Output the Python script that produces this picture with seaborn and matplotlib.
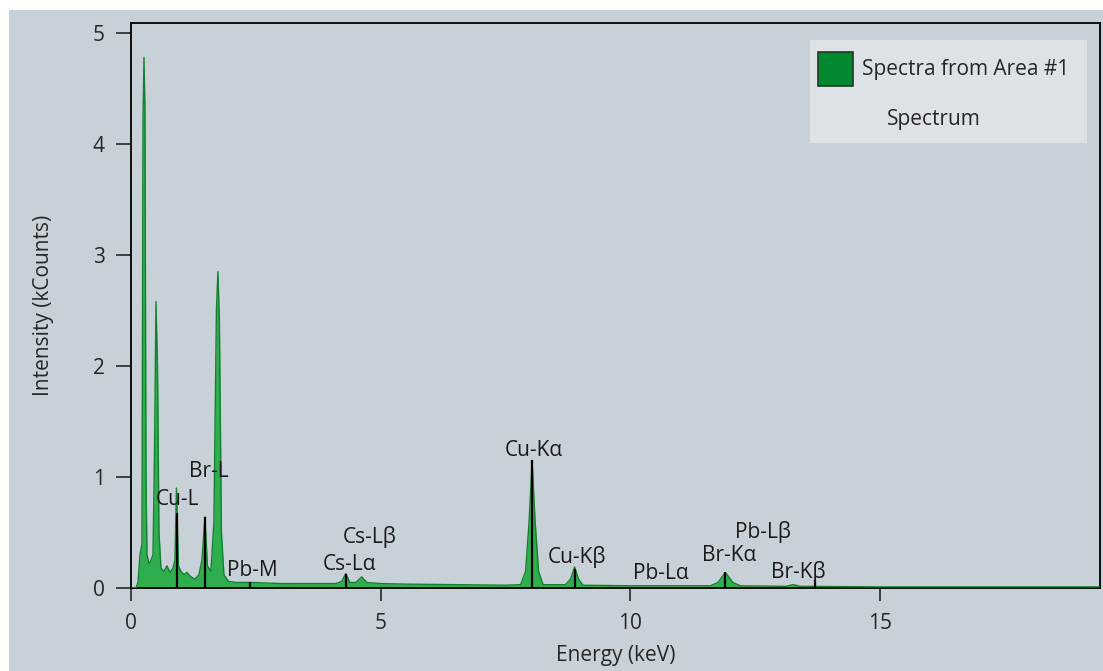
import matplotlib
matplotlib.use("Agg")
import matplotlib.pyplot as plt
from matplotlib.patches import Rectangle
import pandas as pd
import seaborn as sns

# spectrum outline (keV, kCounts)
energy = [0.0, 0.10, 0.14, 0.18, 0.22, 0.24, 0.26, 0.28, 0.30, 0.32, 0.36, 0.40,
          0.44, 0.47, 0.50, 0.53, 0.56, 0.60, 0.66, 0.72, 0.78, 0.84, 0.88, 0.91,
          0.95, 1.00, 1.06, 1.12, 1.20, 1.28, 1.36, 1.42, 1.48, 1.53, 1.60, 1.66,
          1.71, 1.74, 1.77, 1.81, 1.86, 1.95, 2.10, 2.40, 3.00, 3.60, 4.10, 4.22,
          4.30, 4.38, 4.50, 4.62, 4.72, 5.00, 5.50, 6.50, 7.50, 7.80, 7.90, 7.97,
          8.03, 8.09, 8.16, 8.25, 8.70, 8.80, 8.88, 8.96, 9.05, 10.0, 11.6, 11.75,
          11.90, 12.05, 12.20, 13.10, 13.26, 13.40, 15.0, 19.4]
counts = [0.0, 0.0, 0.05, 0.30, 0.40, 4.20, 4.78, 4.30, 1.00, 0.30, 0.22, 0.25,
          0.30, 1.20, 2.58, 2.00, 0.50, 0.18, 0.15, 0.20, 0.14, 0.18, 0.25, 0.90,
          0.20, 0.15, 0.12, 0.14, 0.10, 0.08, 0.12, 0.25, 0.64, 0.20, 0.15, 0.60,
          2.50, 2.85, 2.40, 0.50, 0.12, 0.06, 0.05, 0.05, 0.04, 0.04, 0.04, 0.06,
          0.13, 0.05, 0.05, 0.10, 0.05, 0.04, 0.035, 0.03, 0.025, 0.03, 0.15, 0.60,
          1.15, 0.60, 0.15, 0.03, 0.03, 0.08, 0.19, 0.08, 0.025, 0.02, 0.02, 0.05,
          0.14, 0.05, 0.02, 0.015, 0.03, 0.015, 0.01, 0.01]

# element marker lines
marker_energy = [0.93, 1.48, 2.38, 4.30, 8.03, 8.88, 11.90, 13.70]
marker_height = [0.68, 0.64, 0.05, 0.13, 1.15, 0.17, 0.14, 0.07]

# peak labels (text, keV, kCounts)
label_text = ["Cu-L", "Br-L", "Pb-M", "Cs-L\u03b1", "Cs-L\u03b2", "Cu-K\u03b1",
              "Cu-K\u03b2", "Pb-L\u03b1", "Br-K\u03b1", "Pb-L\u03b2", "Br-K\u03b2"]
label_x = [0.93, 1.56, 2.42, 4.37, 4.77, 8.07, 8.93, 10.6, 11.98, 12.66, 13.36]
label_y = [0.80, 1.05, 0.16, 0.21, 0.46, 1.24, 0.28, 0.13, 0.29, 0.50, 0.14]

df = pd.DataFrame({"Energy (keV)": energy, "Intensity (kCounts)": counts})

bg = "#c9d1d8"
fs = 15
sns.set_style("ticks")
plt.rcParams["font.family"] = ["Open Sans", "DejaVu Sans"]
plt.rcParams["font.size"] = fs

fig = plt.figure(figsize=(11.03, 6.71), dpi=100, facecolor="white")
fig.patches.append(Rectangle((9 / 1103, 0), 1, 1 - 10 / 671, transform=fig.transFigure,
                             facecolor=bg, edgecolor="none", zorder=-10))
ax = fig.add_axes([131 / 1103, 83 / 671, 969 / 1103, 565 / 671])
ax.set_facecolor(bg)

ax.fill_between(df["Energy (keV)"], 0, df["Intensity (kCounts)"], color="#2eae4c", lw=0, zorder=2)
sns.lineplot(data=df, x="Energy (keV)", y="Intensity (kCounts)", ax=ax,
             color="#14802f", lw=1.0, zorder=3)
ax.vlines(marker_energy, 0, marker_height, color="black", lw=1.6, zorder=4)

for t, x, y in zip(label_text, label_x, label_y):
    ax.text(x, y, t, ha="center", va="center", fontsize=fs, color="#1a1a1a", zorder=5)

ax.set_xlim(0, 19.4)
ax.set_ylim(0, 5.09)
ax.set_xticks([0, 5, 10, 15])
ax.set_yticks([0, 1, 2, 3, 4, 5])
ax.tick_params(axis="y", length=11, width=1.2, pad=8, labelsize=fs)
ax.tick_params(axis="x", length=9, width=1.2, pad=9, labelsize=fs)
ax.set_xlabel("Energy (keV)", fontsize=fs, labelpad=8)
ax.set_ylabel("Intensity (kCounts)", fontsize=fs, labelpad=28)
for s in ax.spines.values():
    s.set_linewidth(1.3)
    s.set_color("black")

# legend box
fig.patches.append(Rectangle((810 / 1103, 528 / 671), 277 / 1103, 103 / 671,
                             transform=fig.transFigure, facecolor="#dde2e7",
                             edgecolor="none", zorder=5))
fig.patches.append(Rectangle((818 / 1103, 585 / 671), 35 / 1103, 34 / 671,
                             transform=fig.transFigure, facecolor="#00892f",
                             edgecolor="#1e3a22", lw=1.2, zorder=6))
fig.text(862 / 1103, 601 / 671, "Spectra from Area #1", fontsize=fs, va="center", zorder=7)
fig.text(887 / 1103, 551 / 671, "Spectrum", fontsize=fs, va="center", zorder=7)

fig.savefig("out.png", dpi=100, facecolor="white")
